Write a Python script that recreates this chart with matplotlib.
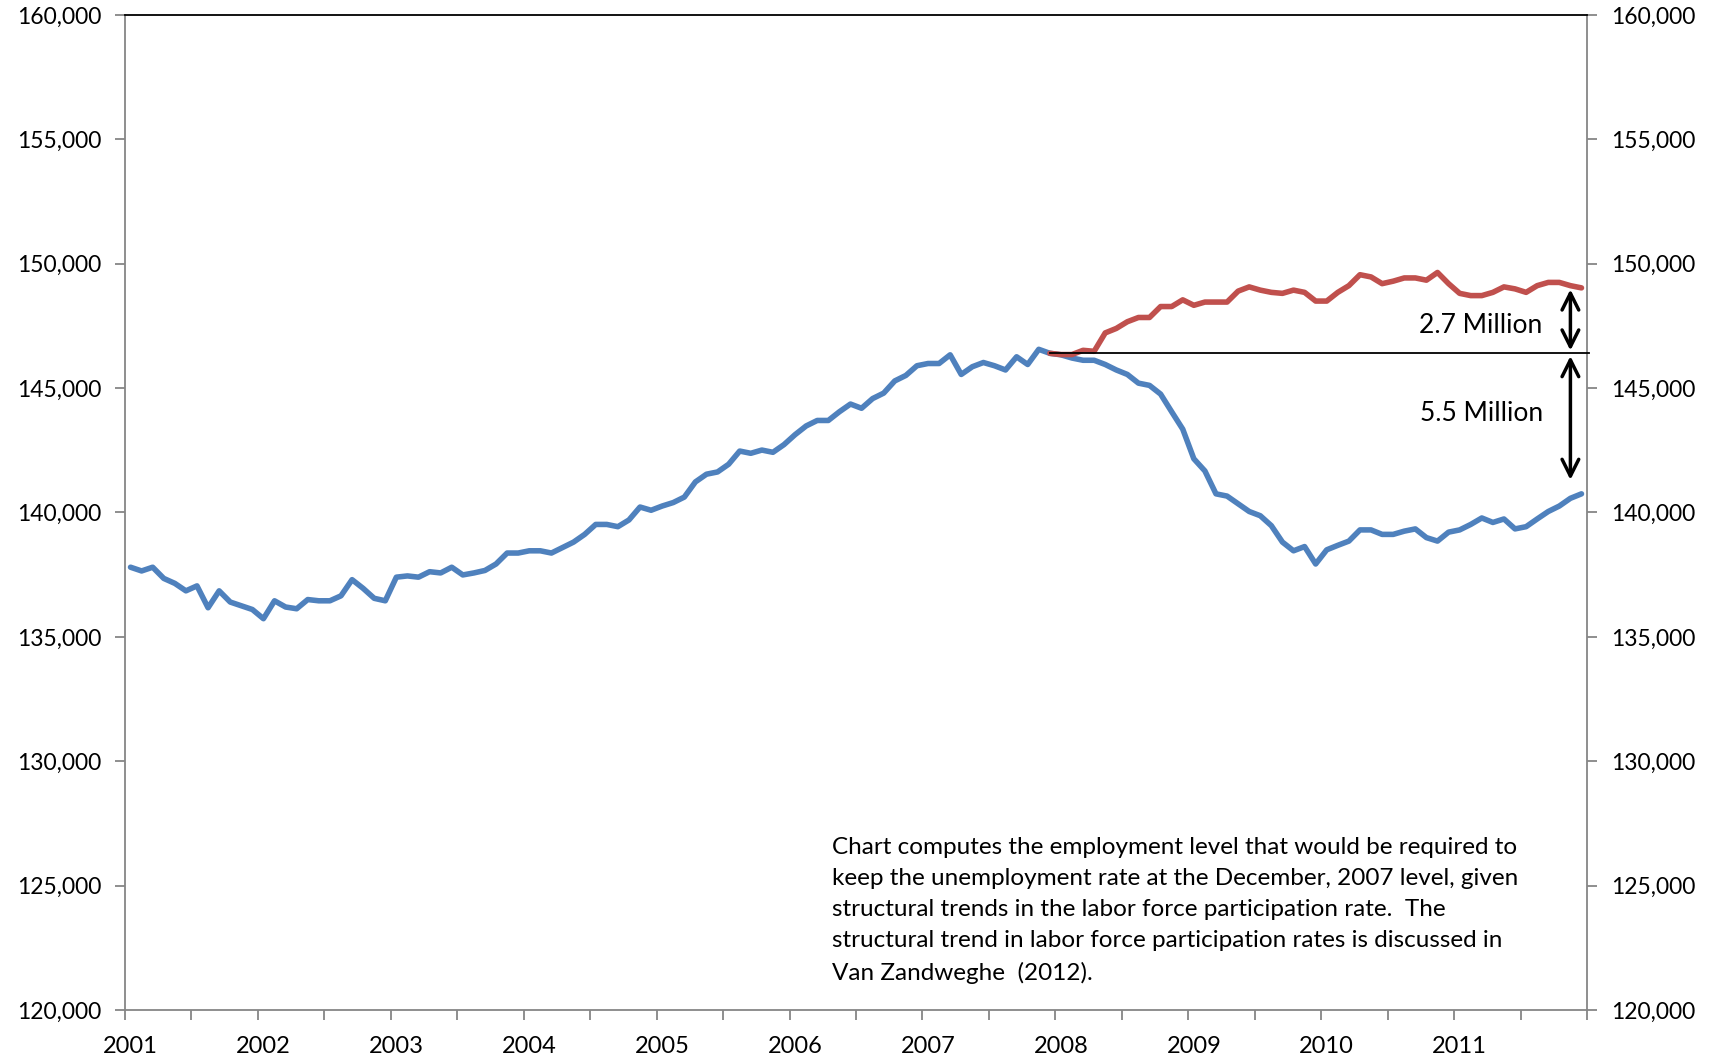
import numpy as np
import matplotlib
matplotlib.use('Agg')
import matplotlib.pyplot as plt
from matplotlib.ticker import FuncFormatter

plt.rcParams['font.family'] = ['Lato', 'DejaVu Sans']

# employment level (thousands), monthly Jan 2001 - Dec 2011
actual = [137800, 137650, 137800, 137350, 137150, 136850, 137050, 136170, 136850, 136400, 136250, 136100,
          135730, 136450, 136200, 136130, 136500, 136450, 136450, 136650, 137300, 136950, 136550, 136450,
          137400, 137450, 137400, 137620, 137570, 137800, 137490, 137570, 137670, 137930, 138370, 138370,
          138460, 138460, 138370, 138590, 138810, 139120, 139520, 139520, 139430, 139700, 140220, 140090,
          140260, 140400, 140620, 141230, 141540, 141630, 141940, 142470, 142380, 142510, 142420, 142730,
          143130, 143480, 143700, 143700, 144050, 144360, 144190, 144580, 144800, 145290, 145510, 145900,
          145990, 145990, 146340, 145550, 145860, 146030, 145900, 145730, 146260, 145950, 146560, 146400,
          146340, 146210, 146120, 146120, 145950, 145730, 145550, 145200, 145110, 144760, 144050, 143350,
          142160, 141670, 140750, 140660, 140350, 140040, 139870, 139470, 138810, 138460, 138630, 137930,
          138500, 138680, 138850, 139300, 139300, 139120, 139120, 139250, 139340, 138990, 138850, 139210,
          139300, 139520, 139780, 139600, 139740, 139340, 139430, 139740, 140040, 140260, 140570, 140750]

# required employment level, Dec 2007 - Dec 2011
required = [146400, 146350, 146350, 146520, 146480, 147220, 147400, 147670, 147840, 147840, 148280, 148280,
            148550, 148330, 148460, 148460, 148460, 148900, 149070, 148940, 148850, 148810, 148940, 148850,
            148500, 148500, 148850, 149120, 149560, 149470, 149200, 149300, 149430, 149430, 149340, 149650,
            149200, 148810, 148720, 148720, 148850, 149070, 148990, 148850, 149120, 149250, 149250, 149120,
            149030]

years = ['2001', '2002', '2003', '2004', '2005', '2006', '2007', '2008', '2009', '2010', '2011']
dec07 = 146400

x = np.arange(len(actual))
x_req = np.arange(len(actual) - len(required), len(actual))

fig = plt.figure(figsize=(17.17, 10.58), dpi=100)
ax = fig.add_axes([0.0728, 0.0454, 0.8515, 0.9404])

ax.plot(x, actual, color='#4F81BD', lw=4, solid_joinstyle='round', solid_capstyle='round', zorder=3)
ax.plot(x_req, required, color='#C0504D', lw=4, solid_joinstyle='round', solid_capstyle='round', zorder=3)

# Dec 2007 reference line
ax.plot([x_req[0], len(actual) - 0.3], [dec07, dec07], color='black', lw=1.3, clip_on=False, zorder=4)

# gap arrows
xa = 130
ax.annotate('', xy=(xa, dec07), xytext=(xa, required[-1] + 50),
            arrowprops=dict(arrowstyle='<->', color='black', lw=2.5, mutation_scale=30))
ax.annotate('', xy=(xa, 141200), xytext=(xa, dec07),
            arrowprops=dict(arrowstyle='<->', color='black', lw=2.5, mutation_scale=30))
ax.text(127.5, 147500, '2.7 Million', ha='right', va='center', fontsize=19)
ax.text(127.5, 144000, '5.5 Million', ha='right', va='center', fontsize=19)

ax.text(63.3, 124000,
        'Chart computes the employment level that would be required to\n'
        'keep the unemployment rate at the December, 2007 level, given\n'
        'structural trends in the labor force participation rate.  The\n'
        'structural trend in labor force participation rates is discussed in\n'
        'Van Zandweghe  (2012).',
        ha='left', va='center', fontsize=17.5, linespacing=1.6)

ax.set_xlim(-0.5, len(actual) - 0.5)
ax.set_ylim(120000, 160000)
ax.set_yticks(np.arange(120000, 160001, 5000))
ax.yaxis.set_major_formatter(FuncFormatter(lambda v, p: f'{int(v):,}'))

ax.set_xticks(np.arange(-0.5, len(actual), 6))
ax.set_xticklabels([])
ax.set_xticks(np.arange(0, len(actual), 12), minor=True)
ax.set_xticklabels(years, minor=True)
ax.tick_params(axis='x', which='major', direction='out', length=7, color='#868686', width=1.3)
ax.tick_params(axis='x', which='minor', length=0, pad=19, labelsize=17)
ax.tick_params(axis='y', direction='out', length=7, color='#868686', width=1.3,
               right=True, labelright=True, labelsize=16.5, pad=10)

for s in ['left', 'right', 'bottom']:
    ax.spines[s].set_color('#868686')
    ax.spines[s].set_linewidth(1.3)
ax.spines['top'].set_color('black')
ax.spines['top'].set_linewidth(1.3)

fig.savefig('out.png', dpi=100)
